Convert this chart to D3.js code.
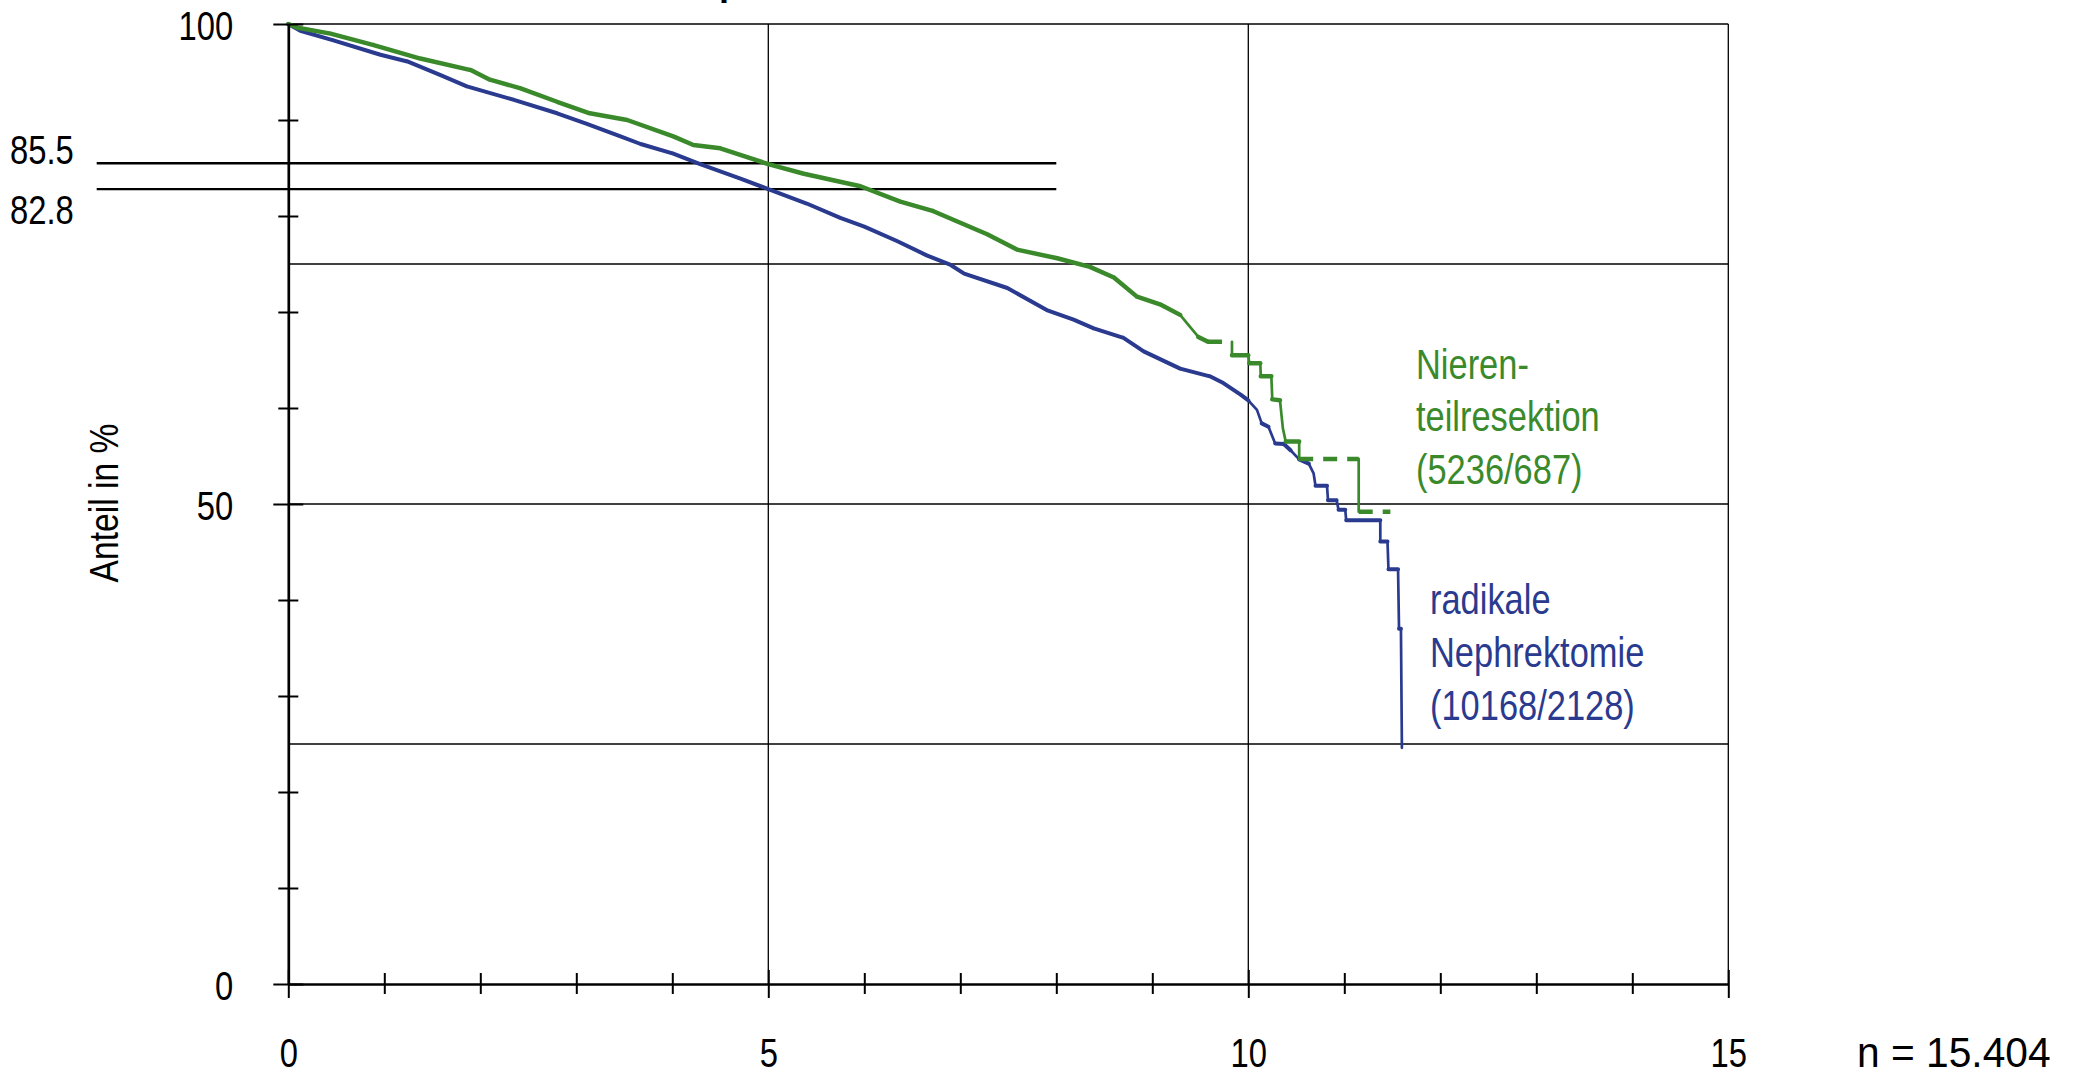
<!DOCTYPE html>
<html><head><meta charset="utf-8">
<script src="https://cdn.jsdelivr.net/npm/d3@7"></script>
<style>html,body{margin:0;padding:0;background:#fff;} svg{display:block;}</style>
</head><body>
<svg id="c" width="2089" height="1077"></svg>
<script>
// ---------------- data ----------------
const greenT = [0, 0.1, 0.44, 0.89, 1.375, 1.9, 2.1, 2.42, 2.8, 3.14, 3.53, 4.01, 4.22, 4.5, 5.0, 5.37, 5.96, 6.375, 6.72, 7.0, 7.28, 7.59, 8.01, 8.35, 8.6, 8.84, 9.08, 9.29, 9.38, 9.48, 9.58, 9.83, 9.83, 10.0, 10.01, 10.125, 10.13, 10.24, 10.25, 10.33, 10.36, 10.39, 10.53, 10.53, 11.15, 11.15, 11.48];
const greenS = [100, 99.6, 99.0, 97.8, 96.4, 95.2, 94.2, 93.3, 91.9, 90.7, 90.0, 88.3, 87.4, 87.05, 85.4, 84.4, 83.1, 81.5, 80.5, 79.3, 78.1, 76.5, 75.6, 74.7, 73.6, 71.6, 70.8, 69.7, 68.6, 67.4, 66.9, 66.9, 65.5, 65.5, 64.65, 64.65, 63.3, 63.3, 60.9, 60.8, 57.9, 56.5, 56.5, 54.7, 54.7, 49.2, 49.2];
const blueT = [0, 0.125, 0.47, 0.96, 1.24, 1.58, 1.86, 2.35, 2.8, 3.11, 3.46, 3.67, 4.01, 4.29, 4.71, 5.0, 5.4, 5.75, 6.0, 6.34, 6.65, 6.9, 7.04, 7.49, 7.9, 8.18, 8.39, 8.7, 8.91, 9.29, 9.6, 9.74, 9.92, 10.0, 10.09, 10.14, 10.21, 10.28, 10.37, 10.44, 10.53, 10.63, 10.68, 10.70, 10.82, 10.83, 10.92, 10.94, 11.01, 11.02, 11.375, 11.375, 11.45, 11.46, 11.56, 11.57, 11.59, 11.6];
const blueS = [100, 99.3, 98.3, 96.8, 96.1, 94.7, 93.5, 92.1, 90.7, 89.6, 88.3, 87.5, 86.5, 85.4, 83.9, 82.8, 81.3, 79.8, 78.9, 77.4, 75.9, 74.9, 74.0, 72.5, 70.2, 69.2, 68.3, 67.3, 65.9, 64.1, 63.3, 62.6, 61.4, 60.8, 59.8, 58.4, 58.05, 56.3, 56.25, 55.6, 54.65, 54.2, 53.2, 51.9, 51.9, 50.4, 50.4, 49.4, 49.4, 48.3, 48.3, 46.1, 46.1, 43.2, 43.2, 37.0, 37.0, 24.6];
const greenDashed = [[9.58, 9.83], [10.53, 11.15], [11.15, 11.48]];
const greenLabel = ["Nieren-", "teilresektion", "(5236/687)"];
const blueLabel = ["radikale", "Nephrektomie", "(10168/2128)"];
const xMajor = [0, 5, 10, 15];
const xMinor = [1, 2, 3, 4, 6, 7, 8, 9, 11, 12, 13, 14];
const yMajor = [0, 50, 100];
const yMinor = [10, 20, 30, 40, 60, 70, 80, 90];
const xGrid = [5, 10, 15];
const yGrid = [25, 50, 75, 100];
const refValues = [85.5, 82.8];
const refLabels = ["85.5", "82.8"];
const refEndYear = 8;
const yTitle = "Anteil in %";
const nLabel = "n = 15.404";
const titleFragment = "p";

// ---------------- setup ----------------
const FONT = "'Liberation Sans', Arial, Helvetica, sans-serif";
const GREEN = "#3a8a2c", BLUE = "#2a3b8f";
const SX = 0.82;
const svg = d3.select("#c");
svg.append("rect").attr("width", 2089).attr("height", 1077).attr("fill", "#fff");
const x = d3.scaleLinear().domain([0, 15]).range([288.3, 1728.3]);
const y = d3.scaleLinear().domain([0, 100]).range([984, 24]);

function txt(g, px, py, s, o = {}) {
  const t = g.append("text")
    .attr("transform", `translate(${px},${py})${o.rot ? ` rotate(${o.rot})` : ""} scale(${o.sx || SX},1)`)
    .attr("text-anchor", o.anchor || "start")
    .attr("font-family", FONT)
    .attr("font-size", o.size || 40)
    .attr("font-weight", o.weight || "normal")
    .attr("fill", o.color || "#000")
    .text(s);
  return t;
}

// title fragment (cut off at top, as in the reference)
txt(svg, 719, -6, titleFragment, {size: 44, weight: "bold"});

// grid
const grid = svg.append("g").attr("stroke", "#000").attr("stroke-width", 1.3);
grid.selectAll(".hg").data(yGrid).join("line")
  .attr("x1", x(0)).attr("x2", x(15)).attr("y1", d => y(d)).attr("y2", d => y(d));
grid.selectAll(".vg").data(xGrid).join("line")
  .attr("x1", d => x(d)).attr("x2", d => x(d)).attr("y1", y(100)).attr("y2", y(0));

// reference lines
const ref = svg.append("g");
ref.selectAll("line").data(refValues).join("line")
  .attr("x1", 96.7).attr("x2", x(refEndYear))
  .attr("y1", d => y(d)).attr("y2", d => y(d))
  .attr("stroke", "#000").attr("stroke-width", 2.4);
txt(ref, 10, y(refValues[0]) + 0.5, refLabels[0]);
txt(ref, 10, y(refValues[1]) + 34.5, refLabels[1]);

// series
function drawSeries(T, S, color, hw, vw, dashed) {
  const g = svg.append("g").attr("fill", "none").attr("stroke", color)
    .attr("stroke-linecap", "round").attr("stroke-linejoin", "round");
  let hP = "", vP = "";
  const dashedSegs = [];
  for (let i = 0; i < T.length - 1; i++) {
    const a = [x(T[i]), y(S[i])], b = [x(T[i + 1]), y(S[i + 1])];
    const isD = S[i] === S[i + 1] && dashed.some(([s, e]) => T[i] >= s - 1e-9 && T[i + 1] <= e + 1e-9);
    if (isD) { dashedSegs.push([a, b]); continue; }
    const seg = `M${a[0]},${a[1]}L${b[0]},${b[1]}`;
    if (Math.abs(b[0] - a[0]) >= Math.abs(b[1] - a[1])) hP += seg; else vP += seg;
  }
  g.append("path").attr("d", vP).attr("stroke-width", vw);
  g.append("path").attr("d", hP).attr("stroke-width", hw);
  g.selectAll(".dash").data(dashedSegs).join("line")
    .attr("x1", d => d[0][0]).attr("y1", d => d[0][1])
    .attr("x2", d => d[1][0]).attr("y2", d => d[1][1])
    .attr("stroke-width", hw).attr("stroke-linecap", "butt")
    .attr("stroke-dasharray", "14,10");
}
drawSeries(blueT, blueS, BLUE, 4.0, 2.7, []);
drawSeries(greenT, greenS, GREEN, 4.5, 2.7, greenDashed);

// axes
const xAxisG = svg.append("g").attr("transform", `translate(0,${y(0)})`);
xAxisG.call(d3.axisBottom(x).tickValues(xMinor).tickSize(0).tickSizeOuter(0).tickFormat(() => ""));
xAxisG.select(".domain").attr("stroke-width", 2.7);
xAxisG.selectAll(".tick line").attr("y1", -11).attr("y2", 10).attr("stroke-width", 2);
const xMajG = svg.append("g").attr("transform", `translate(0,${y(0)})`);
xMajG.call(d3.axisBottom(x).tickValues(xMajor).tickSize(0).tickSizeOuter(0));
xMajG.select(".domain").remove();
xMajG.selectAll(".tick line").attr("y1", -14).attr("y2", 14).attr("stroke-width", 2);
xMajG.selectAll(".tick text").attr("y", null).attr("dy", null)
  .attr("transform", `translate(0,${1067 - y(0)}) scale(${SX},1)`)
  .attr("font-family", FONT).attr("font-size", 40).attr("fill", "#000");

const yAxisG = svg.append("g").attr("transform", `translate(${x(0)},0)`);
yAxisG.call(d3.axisLeft(y).tickValues(yMinor).tickSize(0).tickSizeOuter(0).tickFormat(() => ""));
yAxisG.select(".domain").attr("stroke-width", 2.7);
yAxisG.selectAll(".tick line").attr("x1", -10).attr("x2", 10).attr("stroke-width", 2);
const yMajG = svg.append("g").attr("transform", `translate(${x(0)},0)`);
yMajG.call(d3.axisLeft(y).tickValues(yMajor).tickSize(0).tickSizeOuter(0));
yMajG.select(".domain").remove();
yMajG.selectAll(".tick line").attr("x1", -15).attr("x2", 15).attr("stroke-width", 2);
yMajG.selectAll(".tick text").attr("x", null).attr("dy", null)
  .attr("text-anchor", "end")
  .attr("transform", `translate(-55,15) scale(${SX},1)`)
  .attr("font-family", FONT).attr("font-size", 40).attr("fill", "#000");
svg.selectAll(".tick line").attr("stroke", "#000");
svg.selectAll(".domain").attr("stroke", "#000");

// y title
txt(svg, 118, 503, yTitle, {rot: -90, anchor: "middle", size: 41});

// legend texts
greenLabel.forEach((s, i) => txt(svg, 1416, 378.5 + i * 52.5, s, {size: 42, color: GREEN}));
blueLabel.forEach((s, i) => txt(svg, 1430, 613.5 + i * 53, s, {size: 42, color: BLUE}));

// n label
txt(svg, 1857, 1067, nLabel, {size: 42, sx: 0.97});
</script>
</body></html>
